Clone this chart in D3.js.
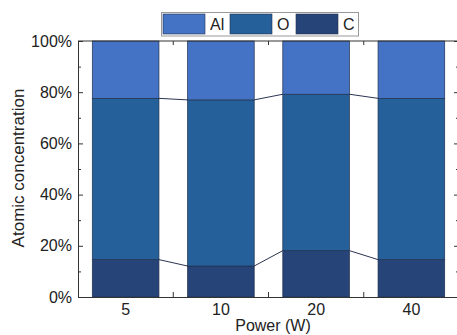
<!DOCTYPE html>
<html>
<head>
<meta charset="utf-8">
<script src="https://cdn.jsdelivr.net/npm/d3@7"></script>
<style>
  html, body { margin: 0; padding: 0; background: #fff; }
  svg { display: block; font-family: "Liberation Sans", Arial, sans-serif; }
</style>
</head>
<body>
<svg id="chart" width="457" height="335"></svg>
<script>
// ---- data ----
const categories = ["5", "10", "20", "40"];
const seriesNames = ["C", "O", "Al"];           // stacking order bottom -> top
const valuesC  = [14.6, 12.1, 18.1, 14.6];
const valuesO  = [63.0, 64.9, 61.1, 63.0];
const valuesAl = [22.4, 23.0, 20.8, 22.4];
const yTicks = [0, 20, 40, 60, 80, 100];
const yMinorTicks = [10, 30, 50, 70, 90];
const legendOrder = ["Al", "O", "C"];
const colors = { Al: "#4472C4", O: "#25609A", C: "#264478" };

const rows = categories.map((c, i) => ({ cat: c, C: valuesC[i], O: valuesO[i], Al: valuesAl[i] }));

const svg = d3.select("#chart");
const pL = 78, pR = 459, pT = 41, pB = 297;

const x = d3.scaleBand().domain(categories).range([pL, pR])
  .paddingInner(0.3).paddingOuter(0.15);
const y = d3.scaleLinear().domain([0, 100]).range([pB, pT]);

const stacked = d3.stack().keys(seriesNames)(rows);

// bars
const g = svg.append("g");
stacked.forEach(layer => {
  g.selectAll(null).data(layer).enter().append("rect")
    .attr("x", d => x(d.data.cat))
    .attr("y", d => y(d[1]))
    .attr("width", x.bandwidth())
    .attr("height", d => y(d[0]) - y(d[1]))
    .attr("fill", colors[layer.key])
    .attr("stroke", "#22314d")
    .attr("stroke-width", 0.7);
});

// connecting lines between bars (at top of C and top of O)
[stacked[0], stacked[1]].forEach(layer => {
  for (let i = 0; i < layer.length - 1; i++) {
    const a = layer[i], b = layer[i + 1];
    svg.append("line")
      .attr("x1", x(a.data.cat) + x.bandwidth()).attr("y1", y(a[1]))
      .attr("x2", x(b.data.cat)).attr("y2", y(b[1]))
      .attr("stroke", "#2a3550").attr("stroke-width", 1);
  }
});

// frame axes
const axisColor = "#333";
const axLeft = svg.append("g").attr("transform", `translate(${pL},0)`)
  .call(d3.axisLeft(y).tickValues(yTicks).tickSize(-5).tickPadding(6).tickFormat(d => d + "%"));
axLeft.select(".domain").attr("stroke", axisColor);
axLeft.selectAll(".tick line").attr("stroke", axisColor);
axLeft.selectAll(".tick text").attr("font-size", 16).attr("fill", "#222")
  .attr("font-family", "Liberation Sans, Arial, sans-serif");
const axLeftMinor = svg.append("g").attr("transform", `translate(${pL},0)`)
  .call(d3.axisLeft(y).tickValues(yMinorTicks).tickSize(-3).tickFormat(""));
axLeftMinor.select(".domain").remove();
axLeftMinor.selectAll(".tick line").attr("stroke", axisColor);

const axRight = svg.append("g").attr("transform", `translate(${pR},0)`)
  .call(d3.axisRight(y).tickValues(yTicks).tickSize(-5).tickFormat(""));
axRight.select(".domain").attr("stroke", axisColor);
axRight.selectAll(".tick line").attr("stroke", axisColor);
const axRightMinor = svg.append("g").attr("transform", `translate(${pR},0)`)
  .call(d3.axisRight(y).tickValues(yMinorTicks).tickSize(-3).tickFormat(""));
axRightMinor.select(".domain").remove();
axRightMinor.selectAll(".tick line").attr("stroke", axisColor);

// bottom axis: labels at category centres, ticks between categories
const axBottom = svg.append("g").attr("transform", `translate(0,${pB})`)
  .call(d3.axisBottom(x).tickSize(0).tickPadding(7));
axBottom.select(".domain").attr("stroke", axisColor);
axBottom.selectAll(".tick text").attr("font-size", 16).attr("fill", "#222")
  .attr("font-family", "Liberation Sans, Arial, sans-serif");
const between = categories.slice(0, -1).map((c, i) =>
  (x(c) + x.bandwidth() + x(categories[i + 1])) / 2);
between.forEach(bx => {
  svg.append("line").attr("x1", bx).attr("x2", bx).attr("y1", pB).attr("y2", pB - 5)
    .attr("stroke", axisColor);
  svg.append("line").attr("x1", bx).attr("x2", bx).attr("y1", pT).attr("y2", pT + 4)
    .attr("stroke", axisColor);
});
svg.append("line").attr("x1", pL).attr("x2", pR).attr("y1", pT).attr("y2", pT)
  .attr("stroke", axisColor);

// axis titles
svg.append("text").attr("x", 273).attr("y", 331).attr("text-anchor", "middle")
  .attr("font-size", 16).attr("fill", "#222").text("Power (W)");
svg.append("text").attr("transform", `translate(24,168) rotate(-90)`)
  .attr("text-anchor", "middle").attr("font-size", 17).attr("fill", "#222")
  .text("Atomic concentration");

// legend
const lg = svg.append("g");
lg.append("rect").attr("x", 161.5).attr("y", 12.5).attr("width", 197).attr("height", 23.5)
  .attr("fill", "#fff").attr("stroke", "#999").attr("stroke-width", 1);
const swX = [163, 230, 296];
legendOrder.forEach((k, i) => {
  lg.append("rect").attr("x", swX[i]).attr("y", 14).attr("width", 42).attr("height", 20)
    .attr("fill", colors[k]).attr("stroke", "#22314d").attr("stroke-width", 0.6);
  lg.append("text").attr("x", swX[i] + 47).attr("y", 30).attr("font-size", 16)
    .attr("fill", "#222").text(k);
});
</script>
</body>
</html>
